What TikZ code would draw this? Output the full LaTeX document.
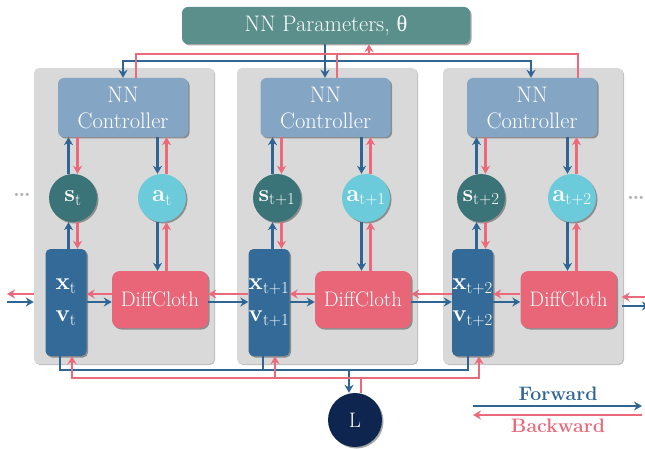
\documentclass[tikz,border=0pt]{standalone}
\usepackage{fontspec}
\newfontfamily\greekfont{Liberation Serif}
\usetikzlibrary{arrows.meta,shadows}
\pgfdeclarelayer{bg}
\pgfsetlayers{bg,main}
\definecolor{fwdblue}{HTML}{2F6594}
\definecolor{bwdpink}{HTML}{EA6A7B}
\definecolor{paramteal}{HTML}{5B8F8B}
\definecolor{panelgray}{HTML}{D9D9D9}
\definecolor{ctrlblue}{HTML}{84A6C4}
\definecolor{stateteal}{HTML}{3A7378}
\definecolor{actcyan}{HTML}{6CCBDB}
\definecolor{xvblue}{HTML}{336A98}
\definecolor{simpink}{HTML}{E86678}
\definecolor{lossnavy}{HTML}{0E2550}
\tikzset{
    every node/.style={inner sep=0mm, text=white},
    boxshadow/.style={drop shadow={shadow xshift=1.5pt, shadow yshift=-1.5pt, opacity=.35, fill=black}},
    panel/.style={rectangle, rounded corners=5pt, fill=panelgray, minimum width=180pt, minimum height=296pt,
        drop shadow={shadow xshift=1pt, shadow yshift=-1pt, opacity=.25, fill=black}},
    params/.style={rectangle, rounded corners=6pt, fill=paramteal, minimum width=288pt, minimum height=37pt,
        font=\fontsize{22.5}{26}\selectfont, boxshadow},
    ctrl/.style={rectangle, rounded corners=6pt, fill=ctrlblue, minimum width=130pt, minimum height=59pt,
        align=center, font=\fontsize{22.5}{26}\selectfont, boxshadow},
    state/.style={circle, minimum size=48pt, fill=stateteal, font=\fontsize{24}{24}\selectfont, boxshadow},
    act/.style={circle, minimum size=48pt, fill=actcyan, font=\fontsize{24}{24}\selectfont, boxshadow},
    xv/.style={rectangle, rounded corners=5pt, fill=xvblue, minimum width=41pt, minimum height=107pt,
        align=center, font=\fontsize{24}{32}\selectfont, boxshadow},
    sim/.style={rectangle, rounded corners=8pt, fill=simpink, minimum width=96pt, minimum height=57pt,
        font=\fontsize{21}{24}\selectfont, boxshadow},
    loss/.style={circle, minimum size=54pt, fill=lossnavy, font=\fontsize{21}{24}\selectfont, boxshadow},
    legendtext/.style={font=\fontsize{19.5}{22}\selectfont\bfseries},
    moredots/.style={text=gray!60, font=\fontsize{22}{22}\selectfont\bfseries},
    fwdline/.style={draw=fwdblue, line width=2.6pt},
    bwdline/.style={draw=bwdpink, line width=2.6pt},
    fwd/.style={fwdline, -{Stealth[length=8pt,width=9pt]}},
    bwd/.style={bwdline, -{Stealth[length=8pt,width=9pt]}},
    fwdboth/.style={fwdline, {Stealth[length=8pt,width=9pt]}-{Stealth[length=8pt,width=9pt]}},
    bwdboth/.style={bwdline, {Stealth[length=8pt,width=9pt]}-{Stealth[length=8pt,width=9pt]}}
}
\newcommand{\sub}[2]{{\bfseries #1}\textsubscript{#2}}

\begin{document}
\begin{tikzpicture}[x=1pt, y=-1pt]
    \useasboundingbox (0,0) rectangle (645,449);

    \begin{pgfonlayer}{bg}
        \node (p1) [panel] at (124, 216) {};
        \node (p2) [panel] at (327, 216) {};
        \node (p3) [panel] at (533, 216) {};
    \end{pgfonlayer}

    \node (par) [params] at (326, 25.5) {NN Parameters, {\greekfont θ}};

    \node (c1) [ctrl] at (123, 107.5) {NN\\Controller};
    \node (c2) [ctrl] at (325.5, 107.5) {NN\\Controller};
    \node (c3) [ctrl] at (532, 107.5) {NN\\Controller};

    \node (s1) [state] at (73, 198) {\sub{s}{t}};
    \node (a1) [act] at (162, 198) {\sub{a}{t}};
    \node (s2) [state] at (277, 198) {\sub{s}{t+1}};
    \node (a2) [act] at (366, 198) {\sub{a}{t+1}};
    \node (s3) [state] at (481, 198) {\sub{s}{t+2}};
    \node (a3) [act] at (572, 198) {\sub{a}{t+2}};

    \node (xv1) [xv] at (66, 302.5) {\sub{x}{t}\\\sub{v}{t}};
    \node (xv2) [xv] at (269, 302.5) {\sub{x}{t+1}\\\sub{v}{t+1}};
    \node (xv3) [xv] at (472.5, 302.5) {\sub{x}{t+2}\\\sub{v}{t+2}};

    \node (d1) [sim] at (160, 299.5) {DiffCloth};
    \node (d2) [sim] at (363, 299.5) {DiffCloth};
    \node (d3) [sim] at (568.5, 299.5) {DiffCloth};

    \node (L) [loss] at (355, 420) {L};

    \node (dotsL) [moredots] at (22, 195) {\ldots};
    \node (dotsR) [moredots] at (636, 198) {\ldots};

    \node (fwdtxt) [legendtext, text=fwdblue] at (558, 394) {Forward};
    \node (bwdtxt) [legendtext, text=bwdpink] at (558, 426) {Backward};

    \coordinate (tbf) at (325, 61);
    \coordinate (tbb) at (369, 54);
    \coordinate (bbf) at (349, 370);
    \coordinate (bbb) at (361, 378);
    \coordinate (inL) at (7, 299.5);
    \coordinate (outR) at (650, 299.5);
    \coordinate (lgA) at (473, 406);
    \coordinate (lgB) at (642, 406);
    \coordinate (lgC) at (473, 415);
    \coordinate (lgD) at (642, 415);

    \draw[fwdboth] (c1.north) |- (tbf) -| ([xshift=-1pt]c3.north);
    \draw[fwd] (par.south -| tbf) -- (c2.north -| tbf);
    \draw[bwdline] ([xshift=13pt]c1.north) |- (tbb) -| ([xshift=46pt]c3.north);
    \draw[bwdline] ([xshift=11.5pt]c2.north) -- ([xshift=11.5pt]c2.north |- tbb);
    \draw[bwd] (tbb) -- (tbb |- par.south);

    \draw[fwd] ([xshift=-4.5pt]s1.north) -- ([xshift=-4.5pt]s1.north |- c1.south);
    \draw[bwd] ([xshift=4.5pt]s1.north |- c1.south) -- ([xshift=4.5pt]s1.north);
    \draw[fwd] ([xshift=-4.5pt]a1.north |- c1.south) -- ([xshift=-4.5pt]a1.north);
    \draw[bwd] ([xshift=4.5pt]a1.north) -- ([xshift=4.5pt]a1.north |- c1.south);
    \draw[fwd] ([xshift=-4.5pt]s1.south |- xv1.north) -- ([xshift=-4.5pt]s1.south);
    \draw[bwd] ([xshift=4.5pt]s1.south) -- ([xshift=4.5pt]s1.south |- xv1.north);
    \draw[fwd] ([xshift=-4.5pt]a1.south) -- ([xshift=-4.5pt]a1.south |- d1.north);
    \draw[bwd] ([xshift=4.5pt]a1.south |- d1.north) -- ([xshift=4.5pt]a1.south);

    \draw[fwd] ([xshift=-4.5pt]s2.north) -- ([xshift=-4.5pt]s2.north |- c2.south);
    \draw[bwd] ([xshift=4.5pt]s2.north |- c2.south) -- ([xshift=4.5pt]s2.north);
    \draw[fwd] ([xshift=-4.5pt]a2.north |- c2.south) -- ([xshift=-4.5pt]a2.north);
    \draw[bwd] ([xshift=4.5pt]a2.north) -- ([xshift=4.5pt]a2.north |- c2.south);
    \draw[fwd] ([xshift=-4.5pt]s2.south |- xv2.north) -- ([xshift=-4.5pt]s2.south);
    \draw[bwd] ([xshift=4.5pt]s2.south) -- ([xshift=4.5pt]s2.south |- xv2.north);
    \draw[fwd] ([xshift=-4.5pt]a2.south) -- ([xshift=-4.5pt]a2.south |- d2.north);
    \draw[bwd] ([xshift=4.5pt]a2.south |- d2.north) -- ([xshift=4.5pt]a2.south);

    \draw[fwd] ([xshift=-4.5pt]s3.north) -- ([xshift=-4.5pt]s3.north |- c3.south);
    \draw[bwd] ([xshift=4.5pt]s3.north |- c3.south) -- ([xshift=4.5pt]s3.north);
    \draw[fwd] ([xshift=-4.5pt]a3.north |- c3.south) -- ([xshift=-4.5pt]a3.north);
    \draw[bwd] ([xshift=4.5pt]a3.north) -- ([xshift=4.5pt]a3.north |- c3.south);
    \draw[fwd] ([xshift=-4.5pt]s3.south |- xv3.north) -- ([xshift=-4.5pt]s3.south);
    \draw[bwd] ([xshift=4.5pt]s3.south) -- ([xshift=4.5pt]s3.south |- xv3.north);
    \draw[fwd] ([xshift=-4.5pt]a3.south) -- ([xshift=-4.5pt]a3.south |- d3.north);
    \draw[bwd] ([xshift=4.5pt]a3.south |- d3.north) -- ([xshift=4.5pt]a3.south);

    \draw[fwd] ([yshift=-2.5pt]inL) -- ([yshift=-2.5pt]p1.west |- inL);
    \draw[bwd] ([yshift=5.5pt]p1.west |- inL) -- ([yshift=5.5pt]inL);
    \draw[fwd] ([yshift=-2.5pt]xv1.east |- d1.west) -- ([yshift=-2.5pt]d1.west);
    \draw[bwd] ([yshift=5.5pt]d1.west) -- ([yshift=5.5pt]xv1.east |- d1.west);
    \draw[fwd] ([yshift=-2.5pt]d1.east) -- ([yshift=-2.5pt]xv2.west |- d1.east);
    \draw[bwd] ([yshift=5.5pt]xv2.west |- d1.east) -- ([yshift=5.5pt]d1.east);
    \draw[fwd] ([yshift=-2.5pt]xv2.east |- d2.west) -- ([yshift=-2.5pt]d2.west);
    \draw[bwd] ([yshift=5.5pt]d2.west) -- ([yshift=5.5pt]xv2.east |- d2.west);
    \draw[fwd] ([yshift=-2.5pt]d2.east) -- ([yshift=-2.5pt]xv3.west |- d2.east);
    \draw[bwd] ([yshift=5.5pt]xv3.west |- d2.east) -- ([yshift=5.5pt]d2.east);
    \draw[fwd] ([yshift=-2.5pt]xv3.east |- d3.west) -- ([yshift=-2.5pt]d3.west);
    \draw[bwd] ([yshift=5.5pt]d3.west) -- ([yshift=5.5pt]xv3.east |- d3.west);
    \draw[fwd] ([shift={(5pt,-6.5pt)}]d3.east) -- ([yshift=-6.5pt]outR);
    \draw[bwd] ([yshift=2.5pt]outR) -- ([shift={(5pt,2.5pt)}]d3.east);

    \draw[fwdline] ([xshift=-6pt]xv1.south) |- (bbf) -| ([xshift=-4.5pt]xv3.south);
    \draw[fwdline] ([xshift=-6pt]xv2.south) -- ([xshift=-6pt]xv2.south |- bbf);
    \draw[fwd] (bbf) -- (bbf |- L.north);
    \draw[bwdline] ([xshift=6pt]L.north) -- ([xshift=6pt]L.north |- bbb);
    \draw[bwdboth] ([xshift=6pt]xv1.south) |- (bbb) -| ([xshift=6.5pt]xv3.south);
    \draw[bwd] ([xshift=6pt]xv2.south |- bbb) -- ([xshift=6pt]xv2.south);

    \draw[fwd] (lgA) -- (lgB);
    \draw[bwd] (lgD) -- (lgC);
\end{tikzpicture}
\end{document}
